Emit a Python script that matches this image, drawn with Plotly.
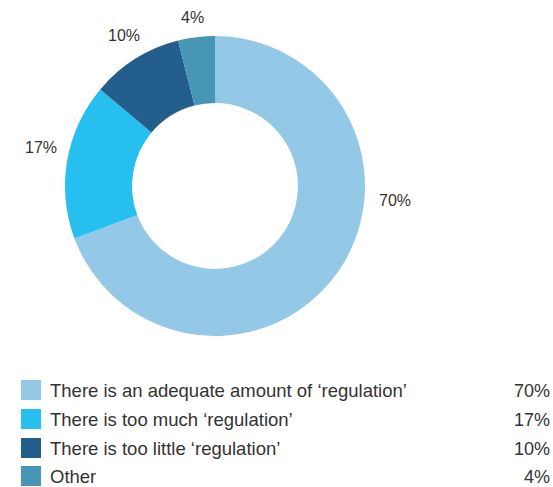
import plotly.graph_objects as go

# Survey responses
categories = [
    "There is an adequate amount of ‘regulation’",
    "There is too much ‘regulation’",
    "There is too little ‘regulation’",
    "Other",
]
shares = [70, 17, 10, 4]
colors = ["#93c8e7", "#26bff0", "#245e8c", "#4796b8"]

W, H = 553, 487
TEXT = "#333333"
FONT = "Liberation Sans"

def px_x(x):
    return x / W

def px_y(y):
    return 1 - y / H

fig = go.Figure(
    go.Pie(
        labels=categories,
        values=shares,
        marker=dict(colors=colors, line=dict(width=0)),
        hole=0.553,
        sort=False,
        direction="clockwise",
        rotation=0,
        textinfo="none",
        hoverinfo="label+percent",
        domain=dict(x=[px_x(65), px_x(365)], y=[px_y(336), px_y(36)]),
        showlegend=False,
    )
)

# Percentage labels around the ring (pixel anchor positions)
label_pos = [(395, 200), (41, 147), (124, 35), (192, 17)]
annotations = []
for v, (lx, ly) in zip(shares, label_pos):
    annotations.append(dict(
        x=px_x(lx), y=px_y(ly), xref="paper", yref="paper",
        text=f"{v}%", showarrow=False, xanchor="center", yanchor="middle",
        font=dict(family=FONT, size=16, color=TEXT),
    ))

# Legend table: swatch, label, share
shapes = []
row_y = [390, 419, 448, 476]
for cat, v, c, ry in zip(categories, shares, colors, row_y):
    shapes.append(dict(
        type="rect", xref="paper", yref="paper",
        x0=px_x(21), x1=px_x(41), y0=px_y(ry + 10), y1=px_y(ry - 10),
        fillcolor=c, line=dict(width=0),
    ))
    box = dict(height=21, borderpad=0)
    annotations.append(dict(
        x=px_x(49), y=px_y(ry), xref="paper", yref="paper",
        text=cat, showarrow=False, xanchor="left", yanchor="middle",
        font=dict(family=FONT, size=18.5, color=TEXT), **box,
    ))
    annotations.append(dict(
        x=px_x(551), y=px_y(ry), xref="paper", yref="paper",
        text=f"{v}%", showarrow=False, xanchor="right", yanchor="middle",
        font=dict(family=FONT, size=18, color=TEXT), **box,
    ))

fig.update_layout(
    width=W, height=H,
    margin=dict(l=0, r=0, t=0, b=0),
    paper_bgcolor="white", plot_bgcolor="white",
    annotations=annotations, shapes=shapes,
)

fig.write_html("out.html")
